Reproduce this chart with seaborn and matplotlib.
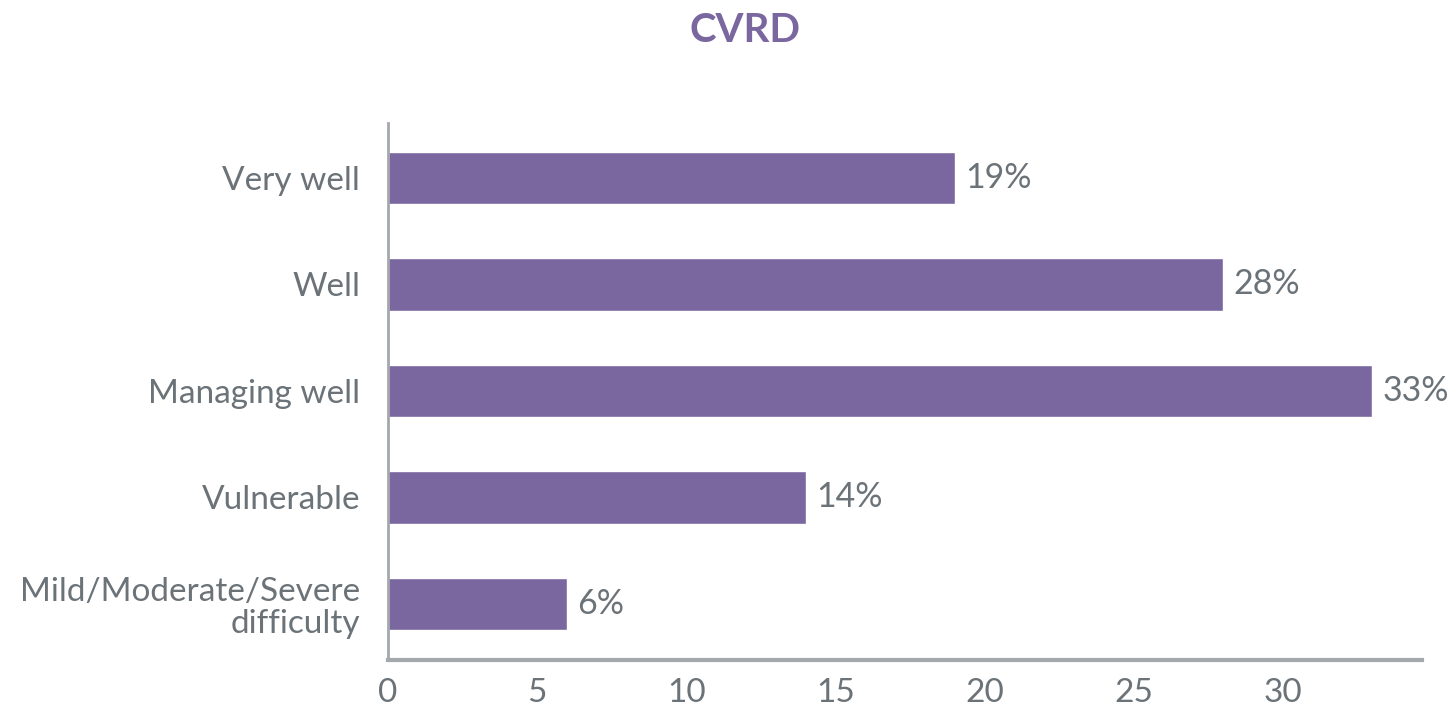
import pandas as pd
import matplotlib.pyplot as plt
import seaborn as sns

# Chart data
categories = ['Very well', 'Well', 'Managing well', 'Vulnerable',
              'Mild/Moderate/Severe\ndifficulty']
values = [19, 28, 33, 14, 6]
value_labels = ['19%', '28%', '33%', '14%', '6%']
x_ticks = [0, 5, 10, 15, 20, 25, 30]

df = pd.DataFrame({'Category': categories, 'Value': values})

sns.set_style('white')
plt.rcParams['font.family'] = ['Lato', 'DejaVu Sans']

purple = '#7a67a0'
text_gray = '#6b7378'
axis_gray = '#a3a8ac'

fig = plt.figure(figsize=(14.55, 7.11), dpi=100)
ax = fig.add_axes([0.2667, 0.0717, 0.7103, 0.7553])

sns.barplot(data=df, x='Value', y='Category', color=purple, width=0.49,
            saturation=1, ax=ax)

# value labels at the end of each bar
for i, (v, lab) in enumerate(zip(values, value_labels)):
    ax.text(v + 0.35, i, lab, va='center', ha='left', fontsize=24.5, color=text_gray)

ax.set_xlim(0, 34.65)
ax.set_ylim(4.526, -0.516)
ax.set_xticks(x_ticks)
ax.set_xlabel('')
ax.set_ylabel('')
ax.tick_params(axis='x', length=0, pad=13, labelsize=24, labelcolor=text_gray)
ax.tick_params(axis='y', length=0, pad=20, labelsize=24, labelcolor=text_gray)
for lbl in ax.get_yticklabels():
    lbl.set_horizontalalignment('right')
    lbl.set_multialignment('right')
    lbl.set_linespacing(1.1)

sns.despine(ax=ax)
ax.spines['left'].set_color(axis_gray)
ax.spines['left'].set_linewidth(2)
ax.spines['bottom'].set_color(axis_gray)
ax.spines['bottom'].set_linewidth(3)

fig.text(0.512, 0.957, 'CVRD', ha='center', va='center', fontsize=29,
         fontweight='bold', color=purple)

fig.savefig('out.png', dpi=100)
